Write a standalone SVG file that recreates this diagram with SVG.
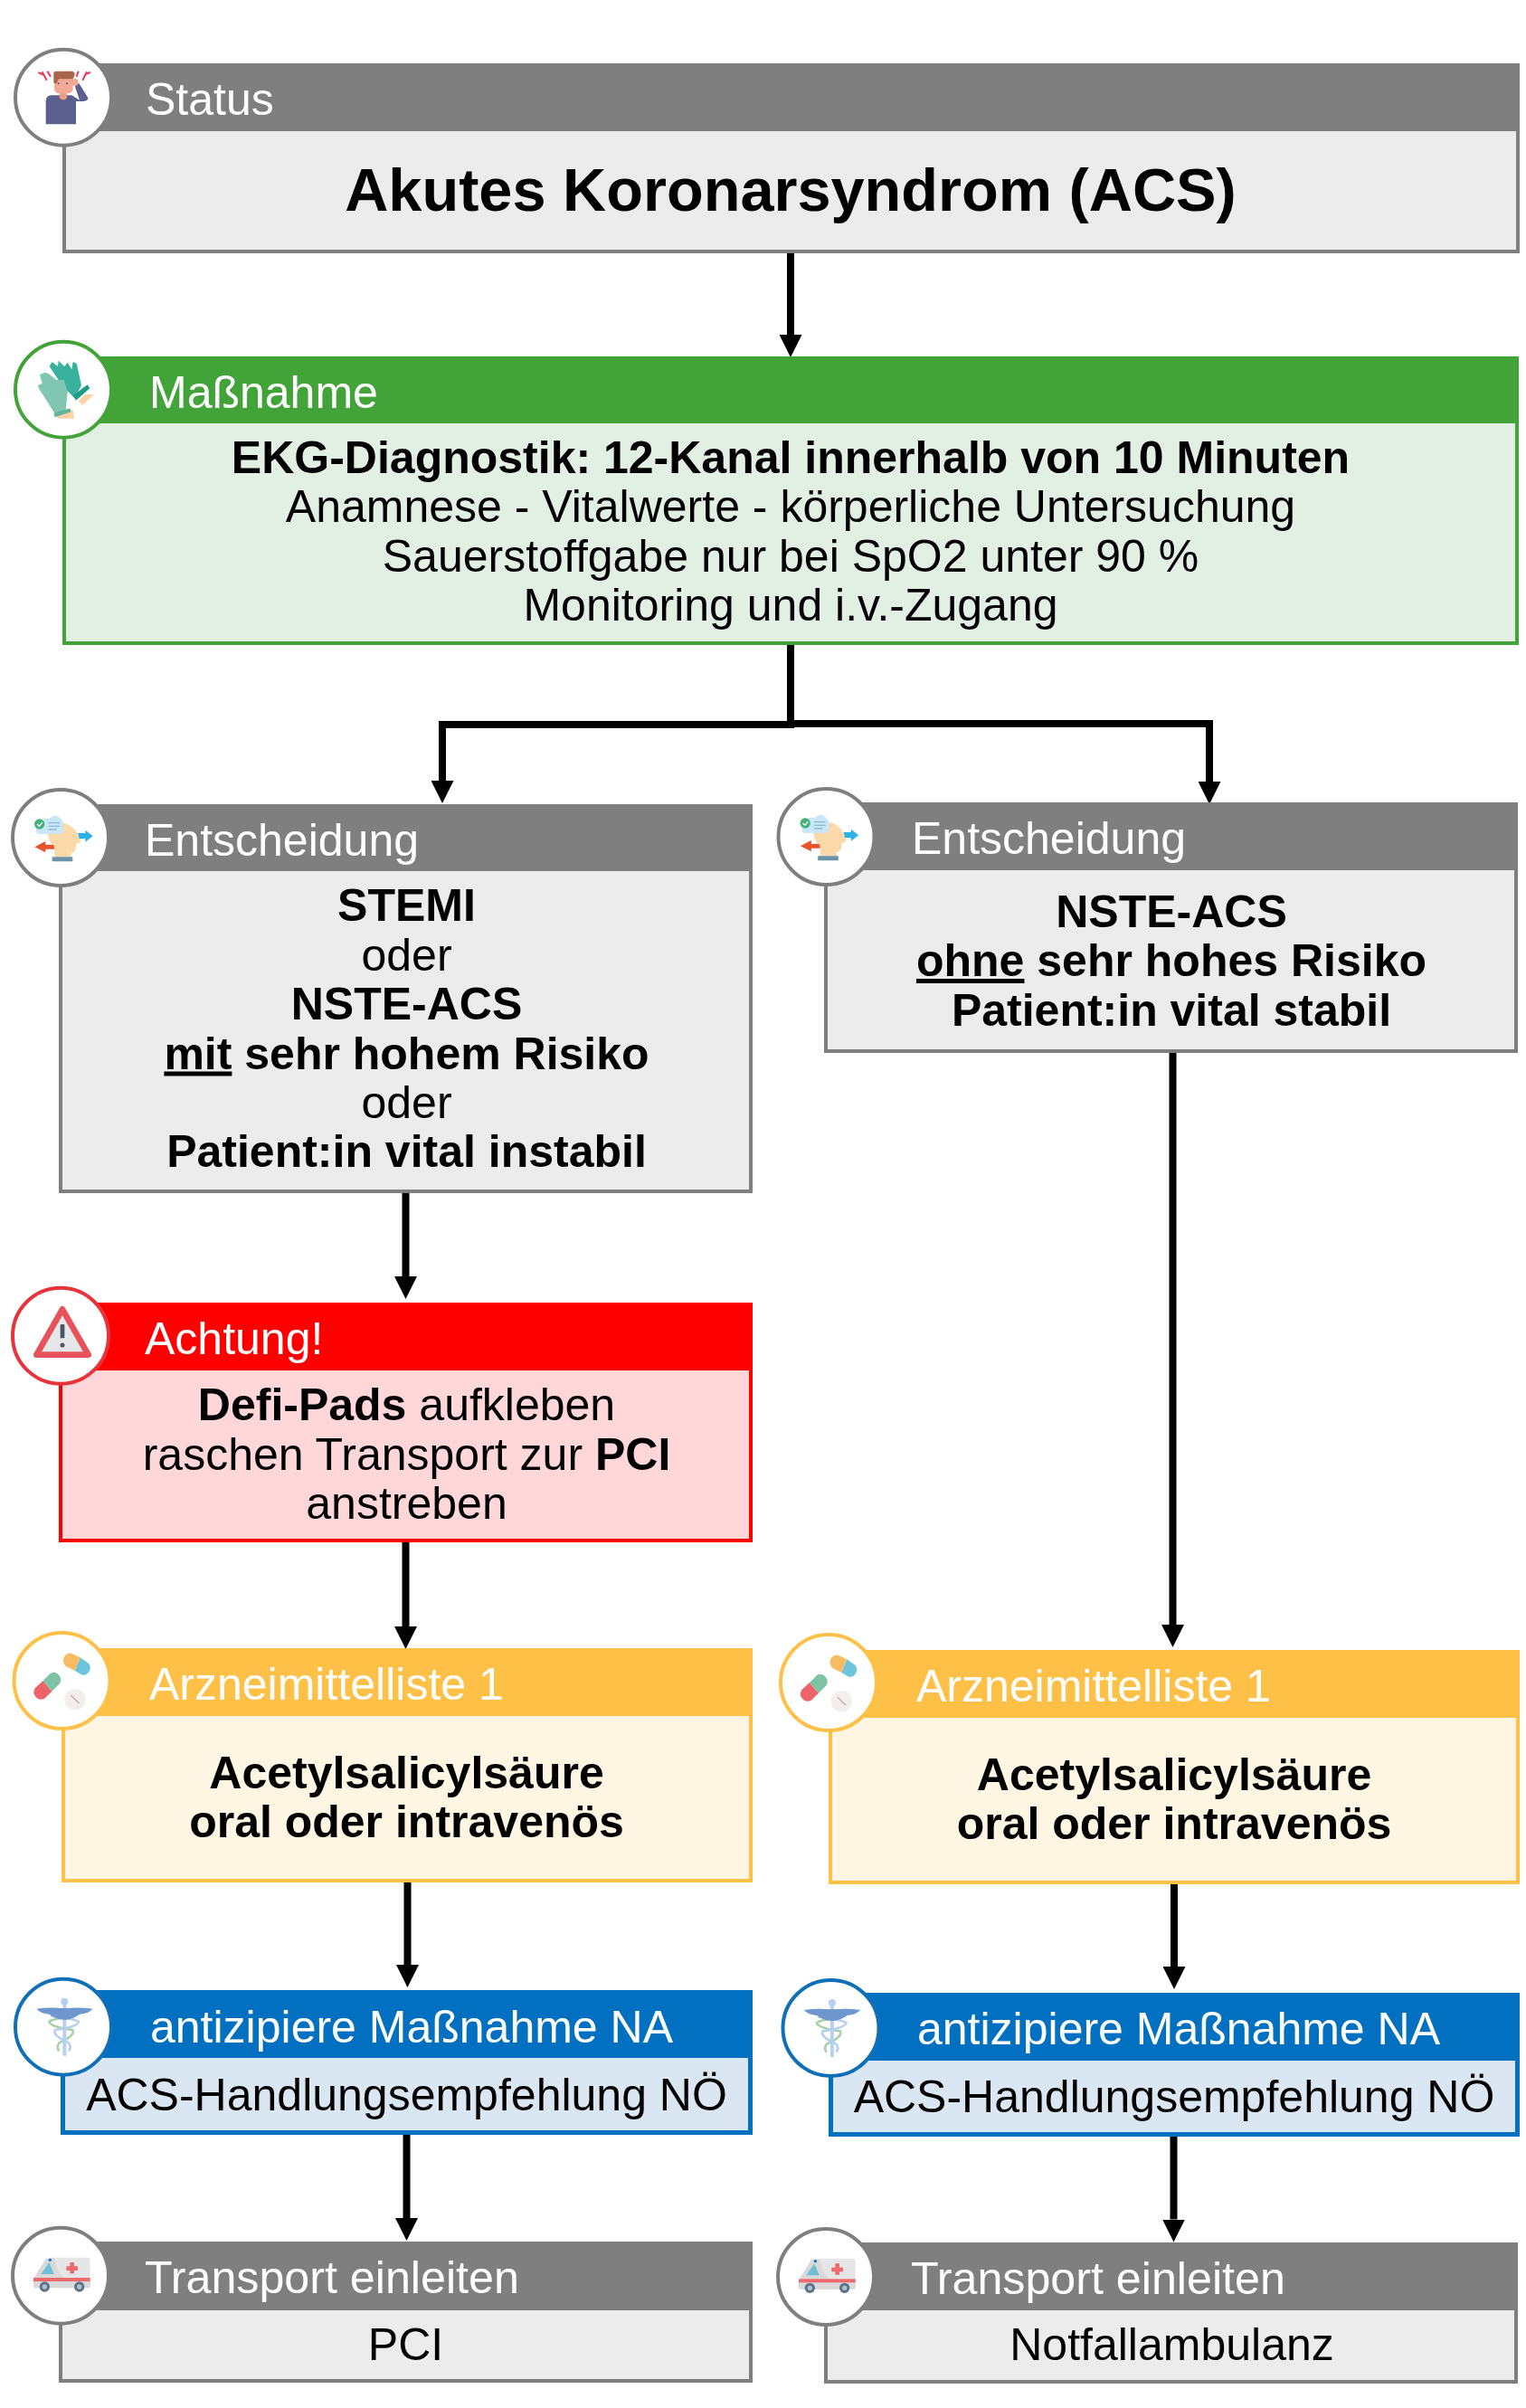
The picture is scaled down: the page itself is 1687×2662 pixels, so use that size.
<svg xmlns="http://www.w3.org/2000/svg" width="1687" height="2662" viewBox="0 0 1687 2662">
<style>
text{font-family:"Liberation Sans",Arial,sans-serif}
.h{fill:#fff;font-size:50px}
.b{fill:#000;font-size:50px;text-anchor:middle}
.s{font-weight:700}
.t{font-size:66.700px;font-weight:700;fill:#000;text-anchor:middle}
.u{text-decoration:underline}
.c{fill:none;stroke:#000;stroke-width:8}
.ring{fill:#fff;stroke-width:4}
.gb{fill:#ececec;stroke:#7f7f7f;stroke-width:4}.gh{fill:#7f7f7f}.gr{stroke:#7f7f7f}
.nb{fill:#e2f0e3;stroke:#42a438;stroke-width:4}.nh{fill:#42a438}.nr{stroke:#42a438}
.rb{fill:#ffd7d9;stroke:#f00;stroke-width:4}.rh{fill:#f00}.rr{stroke:#e8333a}
.yb{fill:#fff5e3;stroke:#ffc048;stroke-width:4}.yh{fill:#ffc048}.yr{stroke:#ffc048}
.bb{fill:#dae7f3;stroke:#0170c0;stroke-width:5}.bh{fill:#0170c0}.br{stroke:#0f70b7}
</style>
<defs>
<marker id="a" markerUnits="userSpaceOnUse" markerWidth="25" markerHeight="25" refX="0" refY="12.500" orient="auto" viewBox="0 0 25 25"><path d="M0 0L25 12.500L0 25Z" fill="#000"/></marker>
<g id="i-person" transform="scale(.3333) translate(-208,-203)">
<path d="M150 292V212Q152 196 172 196H236L262 212L246 165L260 156L290 205Q290 215 275 216H250V292Z" fill="#5a5f8e"/>
<path d="M195 185H220V205Q208 218 195 205Z" fill="#ed9c84"/>
<rect x="178" y="128" width="62" height="62" rx="16" fill="#f2aa94"/>
<path d="M176 155V122Q176 116 185 116H235Q246 116 246 128L240 142H192L186 156Z" fill="#a8664c"/>
<circle cx="246" cy="153" r="12" fill="#f2aa94"/>
<circle cx="192" cy="157" r="3" fill="#4b5a80"/><circle cx="220" cy="157" r="3" fill="#4b5a80"/>
<path d="M125 120L142 128L138 118L153 146M155 116L166 134M258 116L252 134M298 120L282 126L286 118L272 146" fill="none" stroke="#e8385a" stroke-width="6"/>
</g>
<g id="i-gloves" transform="scale(.3333) translate(-208,-1172)">
<path d="M258 1210L280 1188L310 1188L272 1224Z" fill="#fbd3a6"/>
<path d="M162 1095L170 1080L190 1095L192 1076L212 1095L222 1082L236 1105L240 1080L252 1085L268 1158L245 1200L205 1160Z" fill="#38b29d"/>
<path d="M240 1192L288 1156L296 1168L250 1208Z" fill="#1f9c87"/>
<path d="M190 1250L240 1240L244 1268H188Z" fill="#fbd3a6"/>
<path d="M128 1170L124 1158L138 1152L130 1122L148 1115L160 1120L185 1140L210 1140L222 1180L216 1240L180 1252Z" fill="#80c6b0"/>
<path d="M176 1250L230 1234L234 1246L180 1264Z" fill="#62b49c"/>
</g>
<g id="i-brain" transform="scale(.3333) translate(-198,-198)">
<path d="M155 165Q200 130 245 170Q262 200 265 212L250 220Q248 250 232 250V262H178V232Q150 205 155 165Z" fill="#fcd9a8"/>
<path d="M120 185Q112 165 125 152Q132 132 160 135Q180 115 198 135Q212 150 208 170Q208 186 190 186Z" fill="#c9e6f7"/>
<path d="M158 149H195M158 160H195M158 171H185" stroke="#8fb9cf" stroke-width="4"/>
<circle cx="128" cy="153" r="17" fill="#46b07a"/><path d="M120 153L127 160L137 148" fill="none" stroke="#fff" stroke-width="4"/>
<path d="M255 183H280V173L305 193L280 212V202H260Z" fill="#2fb1e6"/>
<path d="M175 222H148V210L112 229L148 247V236H178Z" fill="#e8532b"/>
<rect x="170" y="262" width="68" height="15" rx="2" fill="#6b94a8"/>
</g>
<g id="i-warn" transform="scale(.3333) translate(-198,-200)">
<path d="M204 112L290 263H118Z" fill="#e6e7e8" stroke="#e8525a" stroke-width="20" stroke-linejoin="round"/>
<rect x="197" y="162" width="14" height="46" rx="2" fill="#4a5560"/><circle cx="204" cy="231" r="7.500" fill="#4a5560"/>
</g>
<g id="i-pills" transform="scale(.3333) translate(-203,-205)">
<path d="M264 128L246 172L270 186A24 24 0 0 0 292 148Z" fill="#6cc5dc"/>
<path d="M264 128L246 172L222 160A24 24 0 0 1 234 114Z" fill="#f7bb64"/>
<path d="M140 205L170 240L145 264A24 24 0 0 1 115 228Z" fill="#ec6469"/>
<path d="M140 205L170 240L195 215A24 24 0 0 0 165 180Z" fill="#7dc4a4"/>
<circle cx="246" cy="267" r="35" fill="#f3eeec"/><path d="M232 253L260 280" stroke="#b8b0ae" stroke-width="4"/>
</g>
<g id="i-cad" transform="scale(.3333) translate(-207,-212)">
<path d="M250 175Q170 185 162 195Q165 212 240 222Q250 240 195 265Q185 280 195 292" fill="none" stroke="#a6d4a8" stroke-width="8" transform="translate(-2,0)"/>
<path d="M165 175Q245 185 258 195Q255 212 180 222Q170 240 225 265Q235 280 225 292" fill="none" stroke="#b8d0ef" stroke-width="8"/>
<rect x="205" y="130" width="12" height="178" fill="#b8d0ef"/><circle cx="211" cy="128" r="12" fill="#b8d0ef"/>
<path d="M118 152Q160 146 205 150H217Q262 146 305 152Q290 168 262 170Q240 185 217 188H205Q180 185 160 170Q132 168 118 152Z" fill="#6e96cf"/>
</g>
<g id="i-amb" transform="scale(.3333) translate(-198,-227)">
<path d="M178 167H290Q296 167 296 173V262Q296 268 290 268H114Q108 268 108 262V238L150 170Z" fill="#e6e6e6"/>
<path d="M178 167Q185 225 225 246H296V262Q296 268 290 268H114Q108 268 108 262V238L150 170Z" fill="#d9d9d9"/>
<path d="M133 222L160 183L176 222Z" fill="#6fbfd6"/>
<rect x="108" y="234" width="188" height="12" fill="#ef6a6e"/>
<path d="M229 183H243V196H255V210H243V220H229V210H217V196H229Z" fill="#ef6a6e"/>
<circle cx="145" cy="264" r="17" fill="#5d7385"/><circle cx="145" cy="264" r="8" fill="#a9c6d6"/>
<circle cx="260" cy="264" r="17" fill="#5d7385"/><circle cx="260" cy="264" r="8" fill="#a9c6d6"/>
<circle cx="163" cy="175" r="5" fill="#1a70c0"/>
</g>
</defs>

<g id="connectors">
<path class="c" d="M874 280V370" marker-end="url(#a)"/>
<path class="c" d="M874 713V801H489V863" marker-end="url(#a)"/>
<path class="c" d="M874 800H1337V864" marker-end="url(#a)"/>
<path class="c" d="M448.500 1319V1411" marker-end="url(#a)"/>
<path class="c" d="M448.500 1705V1798" marker-end="url(#a)"/>
<path class="c" d="M1296.500 1164V1796" marker-end="url(#a)"/>
<path class="c" d="M450.500 2081V2172" marker-end="url(#a)"/>
<path class="c" d="M1298 2083V2174" marker-end="url(#a)"/>
<path class="c" d="M449.500 2360V2452" marker-end="url(#a)"/>
<path class="c" d="M1297.500 2362V2453.500" marker-end="url(#a)"/>
</g>

<g id="status">
<rect class="gb" x="71" y="72" width="1607" height="206"/><rect class="gh" x="69" y="70" width="1611" height="75"/>
<circle class="ring gr" cx="70" cy="107.700" r="53"/><use href="#i-person" x="70" y="107.700"/>
<text class="h" x="161" y="127">Status</text>
<text class="t" x="874" y="233">Akutes Koronarsyndrom (ACS)</text>
</g>

<g id="massnahme">
<rect class="nb" x="71" y="396" width="1606" height="315"/><rect class="nh" x="69" y="394" width="1610" height="74"/>
<circle class="ring nr" cx="70" cy="430.700" r="53"/><use href="#i-gloves" x="70" y="430.700"/>
<text class="h" x="165" y="451">Maßnahme</text>
<text class="b s" x="874" y="522.500">EKG-Diagnostik: 12-Kanal innerhalb von 10 Minuten</text>
<text class="b" x="874" y="577">Anamnese - Vitalwerte - körperliche Untersuchung</text>
<text class="b" x="874" y="631.500">Sauerstoffgabe nur bei SpO2 unter 90 %</text>
<text class="b" x="874" y="686">Monitoring und i.v.-Zugang</text>
</g>

<g id="entscheidung-links">
<rect class="gb" x="67" y="891" width="763" height="426"/><rect class="gh" x="65" y="889" width="767" height="74"/>
<circle class="ring gr" cx="67" cy="926" r="53"/><use href="#i-brain" x="67" y="926"/>
<text class="h" x="160" y="946">Entscheidung</text>
<text class="b s" x="449.500" y="1018">STEMI</text>
<text class="b" x="449.500" y="1072.500">oder</text>
<text class="b s" x="449.500" y="1127">NSTE-ACS</text>
<text class="b s" x="449.500" y="1181.500"><tspan class="u">mit</tspan> sehr hohem Risiko</text>
<text class="b" x="449.500" y="1236">oder</text>
<text class="b s" x="449.500" y="1290">Patient:in vital instabil</text>
</g>

<g id="entscheidung-rechts">
<rect class="gb" x="913" y="889" width="763" height="273"/><rect class="gh" x="911" y="887" width="767" height="75"/>
<circle class="ring gr" cx="913.500" cy="925" r="53"/><use href="#i-brain" x="913.500" y="925"/>
<text class="h" x="1008" y="944">Entscheidung</text>
<text class="b s" x="1295" y="1024.500">NSTE-ACS</text>
<text class="b s" x="1295" y="1079"><tspan class="u">ohne</tspan> sehr hohes Risiko</text>
<text class="b s" x="1295" y="1133.500">Patient:in vital stabil</text>
</g>

<g id="achtung">
<rect class="rb" x="67" y="1442" width="763" height="261"/><rect class="rh" x="65" y="1440" width="767" height="75"/>
<circle class="ring rr" cx="67" cy="1476.700" r="53"/><use href="#i-warn" x="67" y="1476.700"/>
<text class="h" x="160" y="1497">Achtung!</text>
<text class="b" x="449.500" y="1570"><tspan class="s">Defi-Pads</tspan> aufkleben</text>
<text class="b" x="449.500" y="1624.500">raschen Transport zur <tspan class="s">PCI</tspan></text>
<text class="b" x="449.500" y="1679">anstreben</text>
</g>

<g id="arzneimittel-links">
<rect class="yb" x="70" y="1824" width="760" height="255"/><rect class="yh" x="68" y="1822" width="764" height="75"/>
<circle class="ring yr" cx="68.500" cy="1858" r="53"/><use href="#i-pills" x="68.500" y="1858"/>
<text class="h" x="165" y="1879">Arzneimittelliste 1</text>
<text class="b s" x="449.500" y="1976.500">Acetylsalicylsäure</text>
<text class="b s" x="449.500" y="2031">oral oder intravenös</text>
</g>

<g id="arzneimittel-rechts">
<rect class="yb" x="918" y="1826" width="760" height="255"/><rect class="yh" x="916" y="1824" width="764" height="75"/>
<circle class="ring yr" cx="916" cy="1860" r="53"/><use href="#i-pills" x="916" y="1860"/>
<text class="h" x="1013" y="1881">Arzneimittelliste 1</text>
<text class="b s" x="1298" y="1978.500">Acetylsalicylsäure</text>
<text class="b s" x="1298" y="2033">oral oder intravenös</text>
</g>

<g id="antizipiere-links">
<rect class="bb" x="69.500" y="2202.500" width="760" height="155"/><rect class="bh" x="67" y="2200" width="765" height="75"/>
<circle class="ring br" cx="70" cy="2240.700" r="53"/><use href="#i-cad" x="70" y="2240.700"/>
<text class="h" x="166" y="2258">antizipiere Maßnahme NA</text>
<text class="b" x="449.500" y="2333">ACS-Handlungsempfehlung NÖ</text>
</g>

<g id="antizipiere-rechts">
<rect class="bb" x="918.500" y="2205.500" width="759" height="154"/><rect class="bh" x="916" y="2203" width="764" height="75"/>
<circle class="ring br" cx="918.500" cy="2242" r="53"/><use href="#i-cad" x="918.500" y="2242"/>
<text class="h" x="1014" y="2260">antizipiere Maßnahme NA</text>
<text class="b" x="1298" y="2335">ACS-Handlungsempfehlung NÖ</text>
</g>

<g id="transport-links">
<rect class="gb" x="67" y="2480" width="763" height="152"/><rect class="gh" x="65" y="2478" width="767" height="76"/>
<circle class="ring gr" cx="67" cy="2515.700" r="53"/><use href="#i-amb" x="67" y="2515.700"/>
<text class="h" x="160" y="2535" style="font-size:50.200px">Transport einleiten</text>
<text class="b" x="448.500" y="2609">PCI</text>
</g>

<g id="transport-rechts">
<rect class="gb" x="913" y="2481" width="763" height="152"/><rect class="gh" x="911" y="2479" width="767" height="75"/>
<circle class="ring gr" cx="913" cy="2517" r="53"/><use href="#i-amb" x="913" y="2517"/>
<text class="h" x="1007" y="2536" style="font-size:50.200px">Transport einleiten</text>
<text class="b" x="1295.500" y="2609">Notfallambulanz</text>
</g>
</svg>
